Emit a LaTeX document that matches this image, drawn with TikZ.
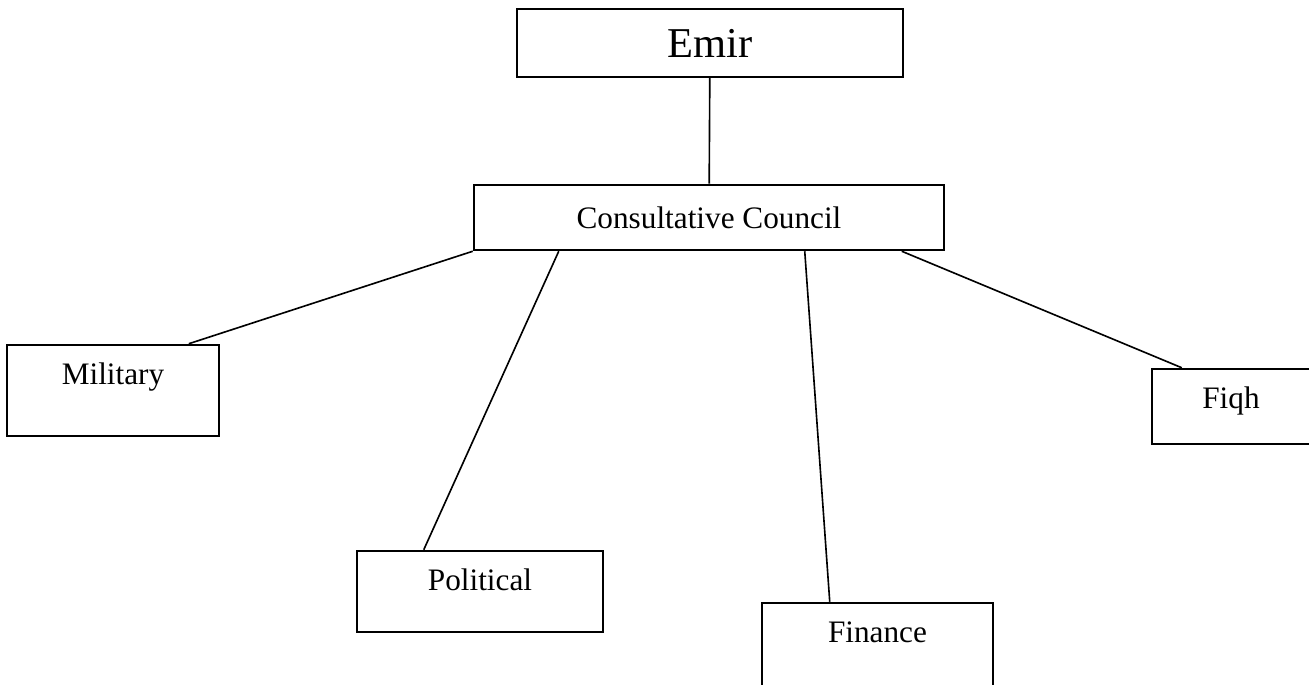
\documentclass[tikz,border=0pt]{standalone}
\usepackage{fontspec}
\setmainfont{Liberation Serif}
\begin{document}
\begin{tikzpicture}[x=0.4pt,y=-0.4pt]
\tikzstyle{box}=[draw,line width=1pt,inner sep=0pt]
\tikzstyle{dept}=[box,text height=16pt,font=\fontsize{12.5}{15}\selectfont]
\tikzstyle{link}=[line width=0.65pt]

\useasboundingbox (0,0) rectangle (1309,685);

% Draw the emir and the council
\node[box,minimum width=154.4pt,minimum height=27.2pt,font=\fontsize{17}{20}\selectfont] (E) at (710,43) {Emir};
\node[box,minimum width=188pt,minimum height=26pt,font=\fontsize{12.5}{15}\selectfont] (C) at (709,217.5) {Consultative Council};

\path[link] (E) edge (C);

% Draw the departments
\foreach \name/\txt/\x/\y/\w/\d in {1/Military/113/390.5/84.8pt/20.4pt,
  2/Political/480/591.5/98.4pt/16.4pt,
  3/Finance/877.5/649/92.4pt/20.8pt,
  4/Fiqh/1231/406.5/63.2pt/14pt}
\node[dept,minimum width=\w,text depth=\d] (D-\name) at (\x,\y) {\txt};

% Connect the council with every department
\foreach \dest/\from/\to in {1/0pt/73.2pt,2/34.4pt/27.2pt,3/132.8pt/27.6pt,4/171.6pt/12.4pt}
\draw[link] ([xshift=\from]C.south west) -- ([xshift=\to]D-\dest.north west);

\end{tikzpicture}
\end{document}
